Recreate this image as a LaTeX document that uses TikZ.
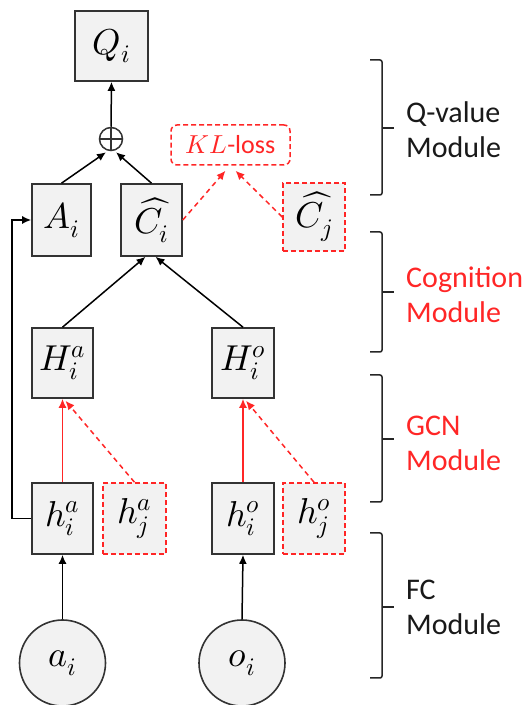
\documentclass[tikz,border=0pt]{standalone}
\usepackage{fontspec}
\usepackage{unicode-math}
\setmainfont{Carlito}
\usetikzlibrary{arrows.meta,calc}
\definecolor{boxfill}{HTML}{F2F2F2}
\definecolor{boxdraw}{HTML}{333333}
\definecolor{myred}{HTML}{FF2626}
\tikzset{
  mbox/.style={draw=boxdraw, line width=1.6pt, fill=boxfill, inner sep=0pt,
    font=\fontsize{36}{40}\selectfont},
  rbox/.style={mbox, draw=myred, line width=1.5pt, dash pattern=on 5pt off 3pt},
  incircle/.style={circle, draw=boxdraw, line width=1.6pt, fill=boxfill,
    minimum size=86pt, inner sep=0pt, font=\fontsize{36}{40}\selectfont},
  conn/.style={line width=1.5pt, draw=black, -{Latex[length=9pt,width=8pt]}},
  rconn/.style={conn, draw=myred, color=myred},
  rdconn/.style={rconn, dash pattern=on 5pt off 4pt},
  bracket/.style={line width=1.5pt, draw=black!85, rounded corners=2pt},
  modlabel/.style={anchor=west, align=left, inner sep=0pt,
    font=\fontsize{30}{35}\selectfont}
}
\begin{document}
\begin{tikzpicture}[x=1pt,y=1pt]
\useasboundingbox (0,0) rectangle (531,705);

% boxes
\node[mbox, minimum width=73pt, minimum height=70pt] (Q) at (111.5,659) {$Q_i$};
\node[circle, draw=boxdraw, line width=1.5pt, minimum size=23pt, inner sep=0pt] (op) at (111,566) {};
\draw[line width=1.5pt, draw=boxdraw] (op.north) -- (op.south) (op.west) -- (op.east);
\node[mbox, minimum width=59pt, minimum height=72pt] (A) at (61.5,485) {$A_i$};
\node[mbox, minimum width=61pt, minimum height=72pt] (Ci) at (151.5,485) {$\widehat{C}_i$};
\node[rbox, fill=white, rounded corners=6pt, minimum width=119pt, minimum height=40pt,
  font=\fontsize{26}{30}\selectfont, text=myred] (KL) at (230.5,560) {$KL$-loss};
\node[rbox, minimum width=62pt, minimum height=68pt] (Cj) at (314,488) {$\widehat{C}_j$};
\node[mbox, minimum width=61pt, minimum height=70pt] (Ha) at (62.5,342) {$H_i^a$};
\node[mbox, minimum width=62pt, minimum height=70pt] (Ho) at (243,342) {$H_i^o$};
\node[mbox, minimum width=61pt, minimum height=71pt] (hai) at (62.5,186.5) {$h_i^a$};
\node[rbox, minimum width=63pt, minimum height=71pt] (haj) at (134.5,186.5) {$h_j^a$};
\node[mbox, minimum width=62pt, minimum height=71pt] (hoi) at (243,186.5) {$h_i^o$};
\node[rbox, minimum width=62pt, minimum height=71pt] (hoj) at (314,186.5) {$h_j^o$};
\node[incircle] (ai) at (62.5,42) {$a_i$};
\node[incircle] (oi) at (242,42) {$o_i$};

% connectors
\draw[conn] (op.north) -- (Q.south);
\draw[conn] (A.north) -- ([xshift=-5pt,yshift=-1pt]op.south);
\draw[conn] (Ci.north) -- ([xshift=5pt,yshift=-1pt]op.south);
\draw[rdconn] (Ci.east) -- ([xshift=-5pt,yshift=-5pt]KL.south);
\draw[rdconn] (Cj.west) -- ([xshift=5pt,yshift=-5pt]KL.south);
\draw[conn] (Ha.north) -- ([xshift=-6pt]Ci.south);
\draw[conn] (Ho.north) -- ([xshift=4pt]Ci.south);
\draw[rconn] (hai.north) -- (Ha.south);
\draw[rdconn] (haj.north) -- ([xshift=3pt,yshift=-2pt]Ha.south);
\draw[rconn] (hoi.north) -- (Ho.south);
\draw[rdconn] (hoj.north) -- ([xshift=3pt,yshift=-2pt]Ho.south);
\draw[conn] (ai.north) -- (hai.south);
\draw[conn] (oi.north) -- (hoi.south);
\draw[conn] (hai.west) -- ++(-19,0) |- (A.west);

% brackets
\draw[bracket] (370,645) -- (382,645) -- (382,510) -- (370,510);
\draw[bracket] (382,577) -- (394,577);
\draw[bracket] (370,473) -- (382,473) -- (382,353) -- (370,353);
\draw[bracket] (382,413) -- (394,413);
\draw[bracket] (370,330) -- (382,330) -- (382,203) -- (370,203);
\draw[bracket] (382,266) -- (394,266);
\draw[bracket] (370,172) -- (382,172) -- (382,27) -- (370,27);
\draw[bracket] (382,98) -- (394,98);

% module labels
\node[modlabel, text=black!90] (lq) at (406,575.5) {Q-value\\Module};
\node[modlabel, text=myred] (lc) at (406,410.5) {Cognition\\Module};
\node[modlabel, text=myred] (lg) at (406,261.5) {GCN\\Module};
\node[modlabel, text=black!90] (lf) at (406,97.5) {FC\\Module};
\end{tikzpicture}
\end{document}
